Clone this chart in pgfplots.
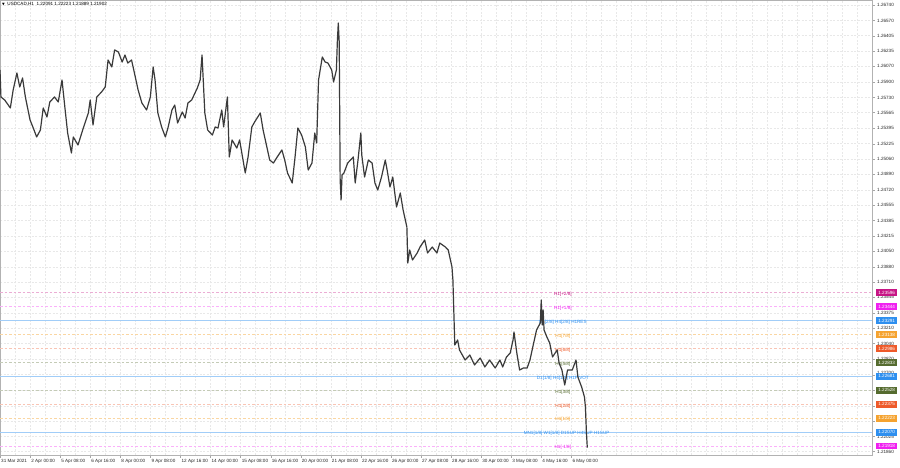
\documentclass[border=0pt]{standalone}
\usepackage{fontspec}
\setmainfont{Liberation Sans}
\newfontfamily\symfont{DejaVu Sans}
\usepackage{pgfplots}
\pgfplotsset{compat=1.18}

\definecolor{mvr}{HTML}{C71585}
\definecolor{mag}{HTML}{F020F0}
\definecolor{dblue}{HTML}{2E8FEF}
\definecolor{orng}{HTML}{F5A330}
\definecolor{ored}{HTML}{EE5A2A}
\definecolor{olive}{HTML}{556B2F}
\definecolor{bars}{HTML}{3A3A3A}

\newcommand\sm{\fontsize{4.6}{5.5}\selectfont}
\tikzset{
  lvl/.style={anchor=center, inner sep=0pt, yshift=-1.5pt, font=\sm},
  tag/.style={anchor=west, xshift=4pt, inner xsep=2.2pt, inner ysep=0pt,
      minimum height=6.5pt, text=white, font=\sm},
  lvline/.style={line width=0.45pt, dash pattern=on 2.5pt off 2pt}
}

\begin{document}
\begin{tikzpicture}
\begin{axis}[
    at={(0,0)}, anchor=south west
  , width=872pt, height=455pt, scale only axis
  , xmin=0, xmax=928
  , ymin=1.21822, ymax=1.26795
  , clip=false
  , axis line style={gray!60}
  , tick align=outside
  , major tick length=3pt
  , minor tick length=0pt
  , tick style={gray!70}
  , xtick pos=bottom
  , xtick={0,32,...,608}
  , xticklabels={31 Mar 2021, 2 Apr 00:00, 5 Apr 08:00, 6 Apr 16:00, 8 Apr 00:00,
      9 Apr 08:00, 12 Apr 16:00, 14 Apr 00:00, 15 Apr 08:00, 16 Apr 16:00,
      20 Apr 00:00, 21 Apr 08:00, 22 Apr 16:00, 26 Apr 00:00, 27 Apr 08:00,
      28 Apr 16:00, 30 Apr 00:00, 3 May 08:00, 4 May 16:00, 6 May 00:00}
  , xticklabel style={anchor=north west, inner sep=0pt, xshift=1pt, yshift=-1pt, font=\sm, text=black!85}
  , minor xtick={16,32,...,928}
  , ytick pos=right, yticklabel pos=right
  , ytick={1.21860,1.22025,1.22195,1.22360,1.22530,1.22700,1.22870,1.23040,1.23210,1.23375,
      1.23545,1.23710,1.23880,1.24050,1.24215,1.24385,1.24555,1.24720,1.24890,1.25060,
      1.25225,1.25395,1.25565,1.25730,1.25900,1.26070,1.26235,1.26405,1.26570,1.26740}
  , yticklabels={1.21860,1.22025,{},{},{},\raisebox{3pt}{1.22700},1.22870,1.23040,1.23210,1.23375,
      1.23545,1.23710,1.23880,1.24050,1.24215,1.24385,1.24555,1.24720,1.24890,1.25060,
      1.25225,1.25395,1.25565,1.25730,1.25900,1.26070,1.26235,1.26405,1.26570,1.26740}
  , yticklabel style={anchor=west, inner sep=0pt, xshift=2pt, font=\sm, text=black!85}
  , xmajorgrids, xminorgrids, ymajorgrids
  , grid style={gray!18, dash pattern=on 2pt off 1.5pt, line width=0.4pt}
  ]

% murrey levels
\addplot[mvr!35, lvline] coordinates {(0,1.23596) (928,1.23596)};
\addplot[mag!35, lvline] coordinates {(0,1.23444) (928,1.23444)};
\addplot[dblue!45, line width=0.45pt] coordinates {(0,1.23291) (928,1.23291)};
\addplot[orng!45, lvline] coordinates {(0,1.23138) (928,1.23138)};
\addplot[ored!35, lvline] coordinates {(0,1.22986) (928,1.22986)};
\addplot[olive!35, lvline] coordinates {(0,1.22833) (928,1.22833)};
\addplot[dblue!45, line width=0.45pt] coordinates {(0,1.22681) (928,1.22681)};
\addplot[olive!35, lvline] coordinates {(0,1.22528) (928,1.22528)};
\addplot[ored!35, lvline] coordinates {(0,1.22375) (928,1.22375)};
\addplot[orng!45, lvline] coordinates {(0,1.22223) (928,1.22223)};
\addplot[dblue!45, line width=0.45pt] coordinates {(0,1.22070) (928,1.22070)};
\addplot[mag!35, lvline] coordinates {(0,1.21918) (928,1.21918)};

\node[lvl, text=mvr] at (axis cs:599,1.23596) {H1[+2/8]};
\node[lvl, text=mag] at (axis cs:599,1.23444) {H1[+1/8]};
\node[lvl, text=dblue] at (axis cs:599,1.23291) {D1[2/8] H4[2/8] H1RES};
\node[lvl, text=orng] at (axis cs:599,1.23138) {H1[7/8]};
\node[lvl, text=ored] at (axis cs:599,1.22986) {H1[6/8]};
\node[lvl, text=olive] at (axis cs:599,1.22833) {H1[5/8]};
\node[lvl, text=dblue] at (axis cs:599,1.22681) {D1[1/8] H4[1/8] H1PIVOT};
\node[lvl, text=olive] at (axis cs:599,1.22528) {H1[3/8]};
\node[lvl, text=ored] at (axis cs:599,1.22375) {H1[2/8]};
\node[lvl, text=orng] at (axis cs:599,1.22223) {H1[1/8]};
\node[lvl, text=dblue] at (axis cs:603,1.22070) {MN1[1/8] W1[1/8] D1SUP H4SUP H1SUP};
\node[lvl, text=mag] at (axis cs:599,1.21918) {H1[-1/8]};

% USDCAD H1 price path
\addplot[bars, line width=1.2pt, line join=round] coordinates {
(0,1.26030) (1,1.25735) (5,1.25702) (11,1.25615) (14,1.25811) (18,1.25997)
(21,1.25844) (24,1.25943) (27,1.25735) (32,1.25483) (35,1.25407) (39,1.25298)
(43,1.25374) (46,1.25615) (50,1.25516) (53,1.25680) (58,1.25735) (62,1.25680)
(66,1.25921) (69,1.25626) (72,1.25341) (76,1.25123) (78,1.25298) (83,1.25210)
(88,1.25374) (94,1.25560) (96,1.25702) (99,1.25429) (103,1.25735) (108,1.25789)
(112,1.25844) (115,1.26139) (119,1.26063) (122,1.26249) (126,1.26227) (130,1.26117)
(133,1.26194) (136,1.26106) (140,1.26139) (144,1.25953) (147,1.25811) (151,1.25669)
(156,1.25593) (160,1.25735) (163,1.26063) (165,1.25921) (168,1.25560) (172,1.25407)
(176,1.25298) (179,1.25407) (183,1.25593) (186,1.25647) (189,1.25451) (194,1.25571)
(197,1.25505) (200,1.25669) (204,1.25702) (210,1.25833) (213,1.25921) (215,1.26194)
(218,1.25560) (221,1.25374) (226,1.25319) (229,1.25407) (232,1.25396) (236,1.25593)
(238,1.25407) (242,1.25735) (244,1.25079) (247,1.25265) (252,1.25177) (255,1.25265)
(261,1.24904) (264,1.25079) (268,1.25407) (271,1.25462) (277,1.25560) (280,1.25374)
(284,1.25188) (287,1.25046) (291,1.25013) (295,1.25079) (300,1.25156) (303,1.25046)
(306,1.24904) (311,1.24795) (314,1.25079) (317,1.25396) (321,1.25319) (325,1.25188)
(328,1.24937) (332,1.25013) (335,1.25341) (337,1.25232) (339,1.25921) (343,1.26172)
(346,1.26117) (349,1.26106) (353,1.26030) (355,1.25899) (358,1.26030) (359,1.26336)
(360,1.26544) (361,1.26336) (362,1.24828) (363,1.24609) (364,1.24882) (366,1.24904)
(370,1.25013) (376,1.25079) (378,1.24795) (381,1.25046) (384,1.25341) (385,1.25101)
(388,1.24860) (392,1.25046) (396,1.25013) (399,1.24795) (402,1.24718) (406,1.24860)
(410,1.25046) (412,1.24937) (415,1.24751) (418,1.24860) (422,1.24533) (426,1.24686)
(429,1.24500) (433,1.24314) (434,1.23920) (436,1.24063) (439,1.23953) (444,1.24030)
(447,1.24095) (452,1.24172) (455,1.24030) (460,1.24095) (465,1.24030) (468,1.24139)
(474,1.24095) (477,1.24063) (481,1.23877) (482,1.23735) (484,1.23024) (487,1.23079)
(489,1.22970) (495,1.22860) (500,1.22915) (505,1.22806) (511,1.22882) (516,1.22784)
(521,1.22860) (527,1.22773) (532,1.22860) (535,1.22784) (539,1.22893) (543,1.22937)
(546,1.23079) (547,1.23166) (550,1.22937) (553,1.22751) (557,1.22773) (561,1.22773)
(564,1.22860) (567,1.23002) (571,1.23188) (575,1.23265) (576,1.23516) (577,1.23243)
(578,1.23407) (579,1.23188) (582,1.23112) (585,1.23046) (588,1.22893) (593,1.22970)
(595,1.22827) (598,1.22751) (601,1.22587) (604,1.22751) (609,1.22751) (613,1.22860)
(615,1.22674) (619,1.22565) (622,1.22456) (623,1.22347) (624,1.22091) (625,1.21902)
};

% price tags on the scale
\node[tag, fill=mvr] at (axis cs:928,1.23596) {1.23596};
\node[tag, fill=mag] at (axis cs:928,1.23444) {1.23444};
\node[tag, fill=dblue] at (axis cs:928,1.23291) {1.23291};
\node[tag, fill=orng] at (axis cs:928,1.23138) {1.23138};
\node[tag, fill=ored] at (axis cs:928,1.22986) {1.22986};
\node[tag, fill=olive] at (axis cs:928,1.22833) {1.22833};
\node[tag, fill=dblue] at (axis cs:928,1.22681) {1.22681};
\node[tag, fill=olive] at (axis cs:928,1.22528) {1.22528};
\node[tag, fill=ored] at (axis cs:928,1.22375) {1.22375};
\node[tag, fill=orng] at (axis cs:928,1.22223) {1.22223};
\node[tag, fill=dblue] at (axis cs:928,1.22070) {1.22070};
\node[tag, fill=mag] at (axis cs:928,1.21918) {1.21918};

\node[anchor=north west, inner sep=0pt, font=\sm, xshift=2pt, yshift=-2.5pt]
  at (rel axis cs:0,1) {{\symfont\fontsize{3.5}{4}\selectfont ▼}\ \ USDCAD,H1\ \ 1.22091 1.22223 1.21889 1.21902};
\end{axis}
\pgfresetboundingbox
\useasboundingbox (0pt,-13pt) rectangle (900pt,455pt);
\end{tikzpicture}
\end{document}
